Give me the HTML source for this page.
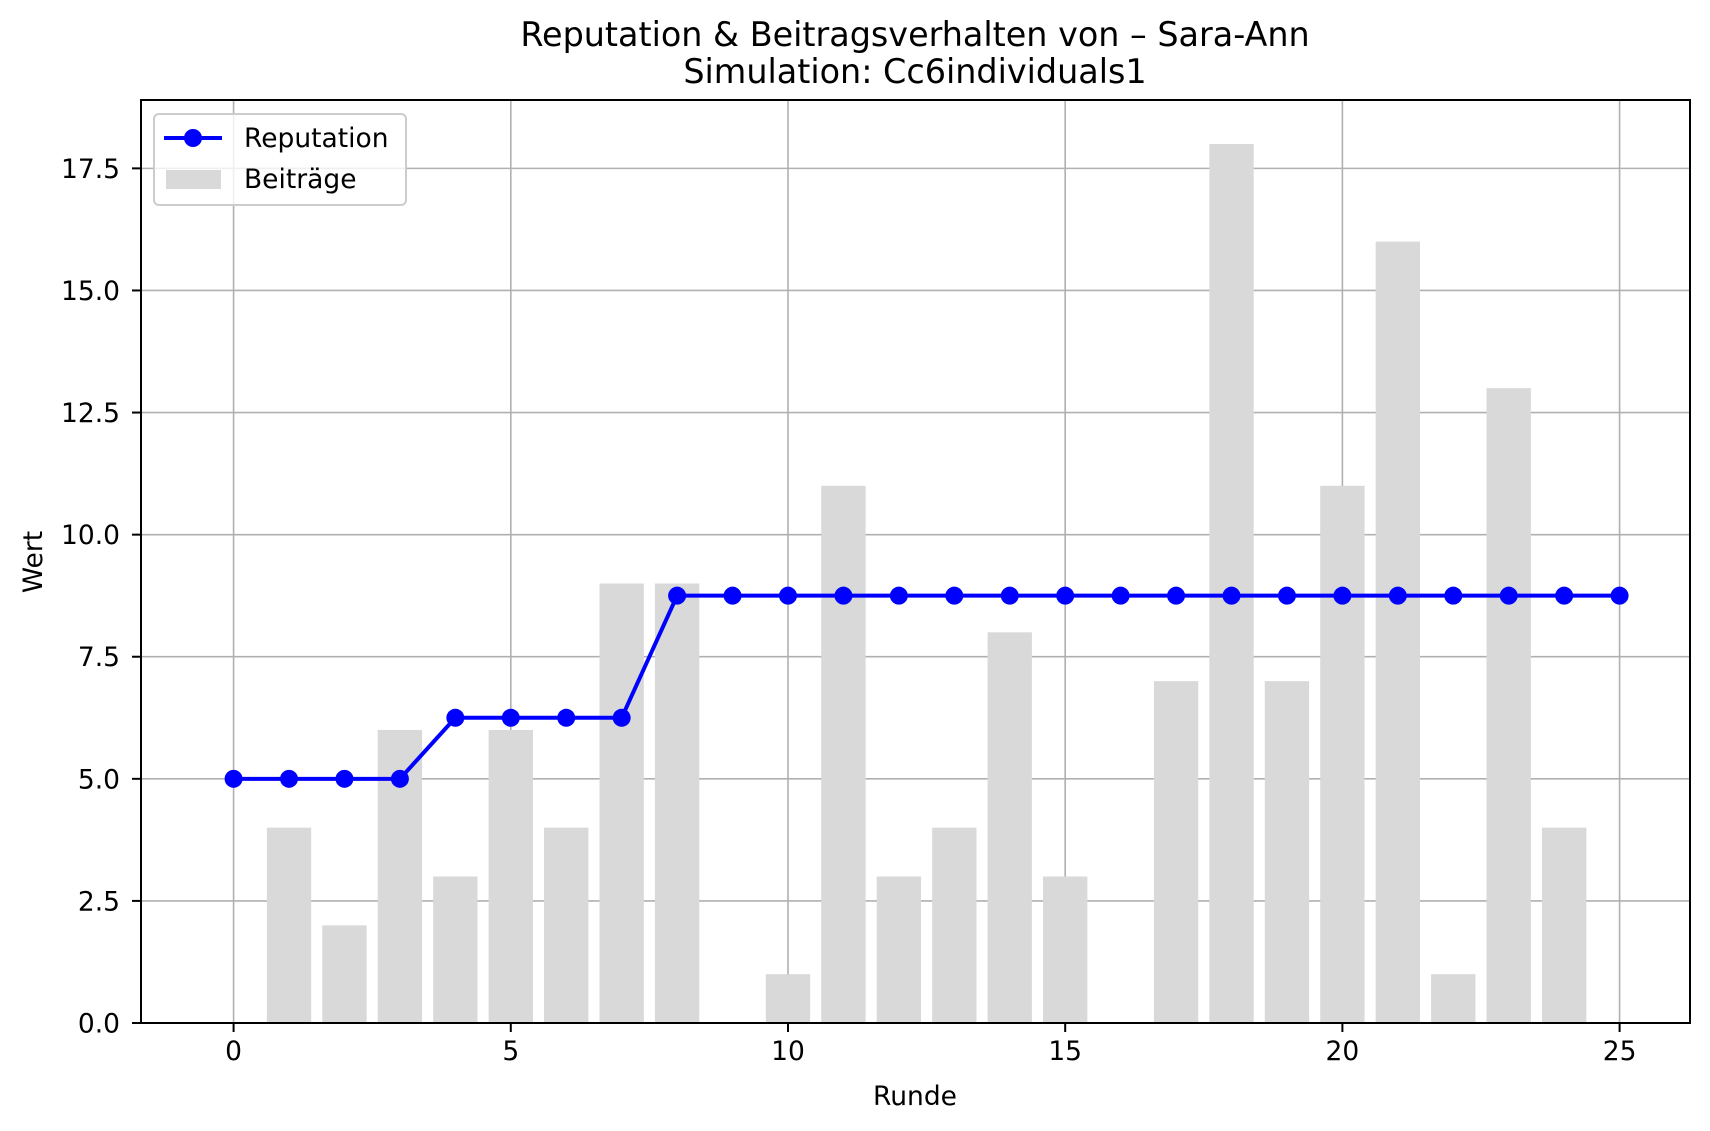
<!DOCTYPE html>
<html><head><meta charset="utf-8"><style>
html,body{margin:0;padding:0;background:#fff;}
svg{display:block;font-family:"DejaVu Sans","Liberation Sans",sans-serif;}
</style></head><body>
<svg id="chart" width="1710" height="1131" viewBox="0 0 1710 1131" xmlns="http://www.w3.org/2000/svg">
<rect width="1710" height="1131" fill="#fff"/>
<g id="grid"></g>
<g id="bars"></g>
<g id="line"></g>
<g id="axes"></g>
<text x="915" y="46" font-size="33.4" text-anchor="middle">Reputation &amp; Beitragsverhalten von – Sara-Ann</text>
<text x="915" y="83" font-size="33.4" text-anchor="middle">Simulation: Cc6individuals1</text>
<text x="915" y="1105" font-size="26.5" text-anchor="middle">Runde</text>
<text x="0" y="0" font-size="26.5" text-anchor="middle" transform="translate(42,562) rotate(-90)">Wert</text>
<g>
<rect x="154" y="114" width="252" height="91" rx="5" fill="#fff" fill-opacity="0.8" stroke="#cccccc" stroke-width="2"/>
<g>
<line x1="164" y1="138" x2="222" y2="138" stroke="#0000ff" stroke-width="4"/>
<circle cx="193" cy="138" r="9" fill="#0000ff"/>
<text x="244" y="147" font-size="26.5">Reputation</text>
</g>
<g>
<rect x="166" y="170" width="55" height="19" fill="#d9d9d9"/>
<text x="244" y="188" font-size="26.5">Beiträge</text>
</g>
</g>
</svg>
<script>
const rounds = [0,1,2,3,4,5,6,7,8,9,10,11,12,13,14,15,16,17,18,19,20,21,22,23,24,25];
const reputation = [5,5,5,5,6.25,6.25,6.25,6.25,8.75,8.75,8.75,8.75,8.75,8.75,8.75,8.75,8.75,8.75,8.75,8.75,8.75,8.75,8.75,8.75,8.75,8.75];
const barRounds = [0,1,2,3,4,5,6,7,8,9,10,11,12,13,14,15,16,17,18,19,20,21,22,23,24];
const contributions = [0,4,2,6,3,6,4,9,9,0,1,11,3,4,8,3,0,7,18,7,11,16,1,13,4];
const xTicks = [0,5,10,15,20,25];
const yTicks = [0,2.5,5,7.5,10,12.5,15,17.5];
const yTickLabels = ["0.0","2.5","5.0","7.5","10.0","12.5","15.0","17.5"];

const L=141,R=1690,T=100,B=1023;
const xMin=-1.67,xMax=26.27,yMin=0,yMax=18.9;
const X=v=>L+(v-xMin)/(xMax-xMin)*(R-L);
const Y=v=>B-(v-yMin)/(yMax-yMin)*(B-T);
const NS="http://www.w3.org/2000/svg";
function mk(tag,attrs,parent){const e=document.createElementNS(NS,tag);for(const k in attrs)e.setAttribute(k,attrs[k]);parent.appendChild(e);return e;}
const grid=document.getElementById('grid'),bars=document.getElementById('bars'),line=document.getElementById('line'),axes=document.getElementById('axes');

xTicks.forEach(t=>{
  const g=mk('line',{x1:X(t),x2:X(t),y1:T,y2:B,stroke:'#b0b0b0','stroke-width':1.6},grid);
  
  
  const tk=mk('line',{x1:X(t),x2:X(t),y1:B,y2:B+9,stroke:'#000','stroke-width':2},axes);
  
  
  const tx=mk('text',{x:X(t),y:B+37,'font-size':26.5,'text-anchor':'middle'},axes);
  tx.textContent=t;
  
  
});
yTicks.forEach((t,i)=>{
  const g=mk('line',{x1:L,x2:R,y1:Y(t),y2:Y(t),stroke:'#b0b0b0','stroke-width':1.6},grid);
  
  
  const tk=mk('line',{x1:L-9,x2:L,y1:Y(t),y2:Y(t),stroke:'#000','stroke-width':2},axes);
  
  
  const tx=mk('text',{x:L-21,y:Y(t)+9.5,'font-size':26.5,'text-anchor':'end'},axes);
  tx.textContent=yTickLabels[i];
  
  
});
barRounds.forEach((r,i)=>{
  const v=contributions[i];
  const b=mk('rect',{x:X(r-0.4),y:Y(v),width:X(r+0.4)-X(r-0.4),height:Y(0)-Y(v),fill:'#d9d9d9'},bars);
  
  
});
const pl=mk('polyline',{points:rounds.map((r,i)=>X(r)+','+Y(reputation[i])).join(' '),fill:'none',stroke:'#0000ff','stroke-width':4,'stroke-linejoin':'round'},line);


rounds.forEach((r,i)=>{
  const c=mk('circle',{cx:X(r),cy:Y(reputation[i]),r:9,fill:'#0000ff'},line);
  
  
});
const fr=mk('rect',{x:L,y:T,width:R-L,height:B-T,fill:'none',stroke:'#000','stroke-width':2},axes);


</script>
</body></html>
